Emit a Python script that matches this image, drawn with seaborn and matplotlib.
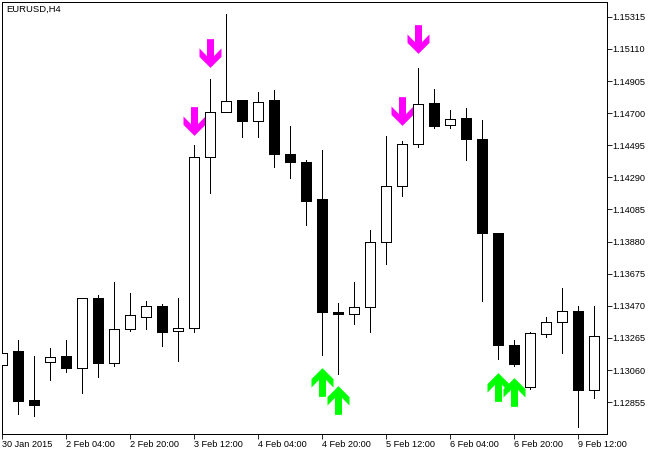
import numpy as np
import pandas as pd
import matplotlib
matplotlib.use("Agg")
import matplotlib.pyplot as plt
from matplotlib.path import Path
import seaborn as sns

# candle values (H4 bars)
opens = [1.13094, 1.13179, 1.12866, 1.13113, 1.13147, 1.13072, 1.13517, 1.13104, 1.13321, 1.13398,
         1.13472, 1.13308, 1.13327, 1.14421, 1.14709, 1.14781, 1.14649, 1.14781, 1.14442, 1.14391,
         1.14149, 1.13428, 1.13417, 1.13464, 1.13879, 1.14236, 1.14502, 1.14762, 1.14623, 1.14666,
         1.14538, 1.13938, 1.13223, 1.12951, 1.13289, 1.13366, 1.13440, 1.12932]
closes = [1.13170, 1.12861, 1.12840, 1.13145, 1.13072, 1.13517, 1.13102, 1.13323, 1.13413, 1.13470,
          1.13306, 1.13330, 1.14421, 1.14709, 1.14779, 1.14649, 1.14772, 1.14438, 1.14385, 1.14142,
          1.13428, 1.13415, 1.13464, 1.13879, 1.14236, 1.14504, 1.14760, 1.14621, 1.14664, 1.14532,
          1.13932, 1.13217, 1.13096, 1.13294, 1.13368, 1.13438, 1.12932, 1.13279]
highs = [1.13170, 1.13255, 1.13147, 1.13204, 1.13249, 1.13523, 1.13542, 1.13619, 1.13549, 1.13504,
         1.13479, 1.13517, 1.14494, 1.14915, 1.15330, 1.14787, 1.14838, 1.14845, 1.14621, 1.14404,
         1.14462, 1.13485, 1.13619, 1.13957, 1.14557, 1.14525, 1.14985, 1.14851, 1.14717, 1.14730,
         1.14659, 1.13938, 1.13249, 1.13300, 1.13396, 1.13587, 1.13472, 1.13472]
lows = [1.13094, 1.12777, 1.12766, 1.12995, 1.13046, 1.12911, 1.13013, 1.13083, 1.13308, 1.13325,
        1.13211, 1.13115, 1.13306, 1.14189, 1.14709, 1.14545, 1.14545, 1.14359, 1.14289, 1.13989,
        1.13153, 1.13032, 1.13357, 1.13306, 1.13734, 1.14168, 1.14487, 1.14602, 1.14602, 1.14398,
        1.13504, 1.13128, 1.13083, 1.12942, 1.13268, 1.13172, 1.12694, 1.12879]

sell_bars = [12, 13, 25, 26]
sell_prices = [1.14650, 1.15085, 1.14715, 1.15174]
buy_bars = [20, 21, 31, 32]
buy_prices = [1.12983, 1.12869, 1.12951, 1.12919]

y_ticks = [1.15315, 1.15110, 1.14905, 1.14700, 1.14495, 1.14290, 1.14085,
           1.13880, 1.13675, 1.13470, 1.13265, 1.13060, 1.12855]
x_ticks = [0, 4, 8, 12, 16, 20, 24, 28, 32, 36]
x_labels = ["30 Jan 2015", "2 Feb 04:00", "2 Feb 20:00", "3 Feb 12:00", "4 Feb 04:00",
            "4 Feb 20:00", "5 Feb 12:00", "6 Feb 04:00", "6 Feb 20:00", "9 Feb 12:00"]

LW = 0.6


def arrow_marker(up):
    # outline in pixels, pointing up, centred on the origin
    half = [(3.5, -14.35), (3.5, 2.65), (11, -5.05), (11, 3.35), (0, 14.35)]
    verts = half + [(-x, y) for x, y in half[-2::-1]] + [half[0]]
    if not up:
        verts = [(x, -y) for x, y in verts]
    return Path(verts, closed=True)


def plot_candles():
    sns.set_style("white")
    plt.rcParams["font.family"] = ["Liberation Sans", "DejaVu Sans"]
    W, H = 659, 454
    fig = plt.figure(figsize=(W / 100, H / 100), dpi=100)
    ax = fig.add_axes([2.0 / W, 1 - 434.0 / H, 605 / W, 432 / H])

    # arrows go under the candles
    size = (2 * 14.35 * 0.72) ** 2
    sns.scatterplot(x=sell_bars, y=sell_prices, marker=arrow_marker(False), s=size,
                    color="#ff00ff", linewidth=0, ax=ax, zorder=1)
    sns.scatterplot(x=buy_bars, y=buy_prices, marker=arrow_marker(True), s=size,
                    color="#00ff00", linewidth=0, ax=ax, zorder=1)

    # wicks
    bars = np.arange(len(opens))
    wicks = pd.DataFrame({"bar": np.r_[bars, bars], "price": np.r_[lows, highs]})
    sns.lineplot(data=wicks, x="bar", y="price", units="bar", estimator=None, sort=False,
                 color="black", linewidth=LW, antialiased=False, ax=ax, zorder=2)

    # bodies
    top = np.maximum(opens, closes)
    bottom = np.minimum(opens, closes)
    colors = ["white" if c >= o else "black" for o, c in zip(opens, closes)]
    ax.bar(bars, top - bottom, bottom=bottom, width=0.625, color=colors, edgecolor="black",
           linewidth=LW, antialiased=False, zorder=3)

    ax.set_xlim(0, 37.81)
    ax.set_ylim(1.126519, 1.154094)
    ax.set_xlabel("")
    ax.set_ylabel("")

    ax.yaxis.tick_right()
    ax.set_yticks(y_ticks, [f"{v:.5f}" for v in y_ticks])
    ax.set_xticks(x_ticks, x_labels, ha="left")
    ax.tick_params(axis="both", direction="out", length=3.5, width=LW, color="black",
                   labelsize=6.6, pad=1, labelcolor="black",
                   bottom=True, right=True, left=False, top=False)
    ax.tick_params(axis="y", pad=0.2)
    for spine in ax.spines.values():
        spine.set_linewidth(LW)
        spine.set_color("black")
        spine.set_antialiased(False)
    for line in ax.get_xticklines() + ax.get_yticklines():
        line.set_antialiased(False)

    ax.text(4.5 / 605, 1 - 3 / 432, "EURUSD,H4", transform=ax.transAxes, va="top", ha="left",
            fontsize=6.8, color="black")

    fig.savefig("out.png", dpi=100)


if __name__ == "__main__":
    plot_candles()
